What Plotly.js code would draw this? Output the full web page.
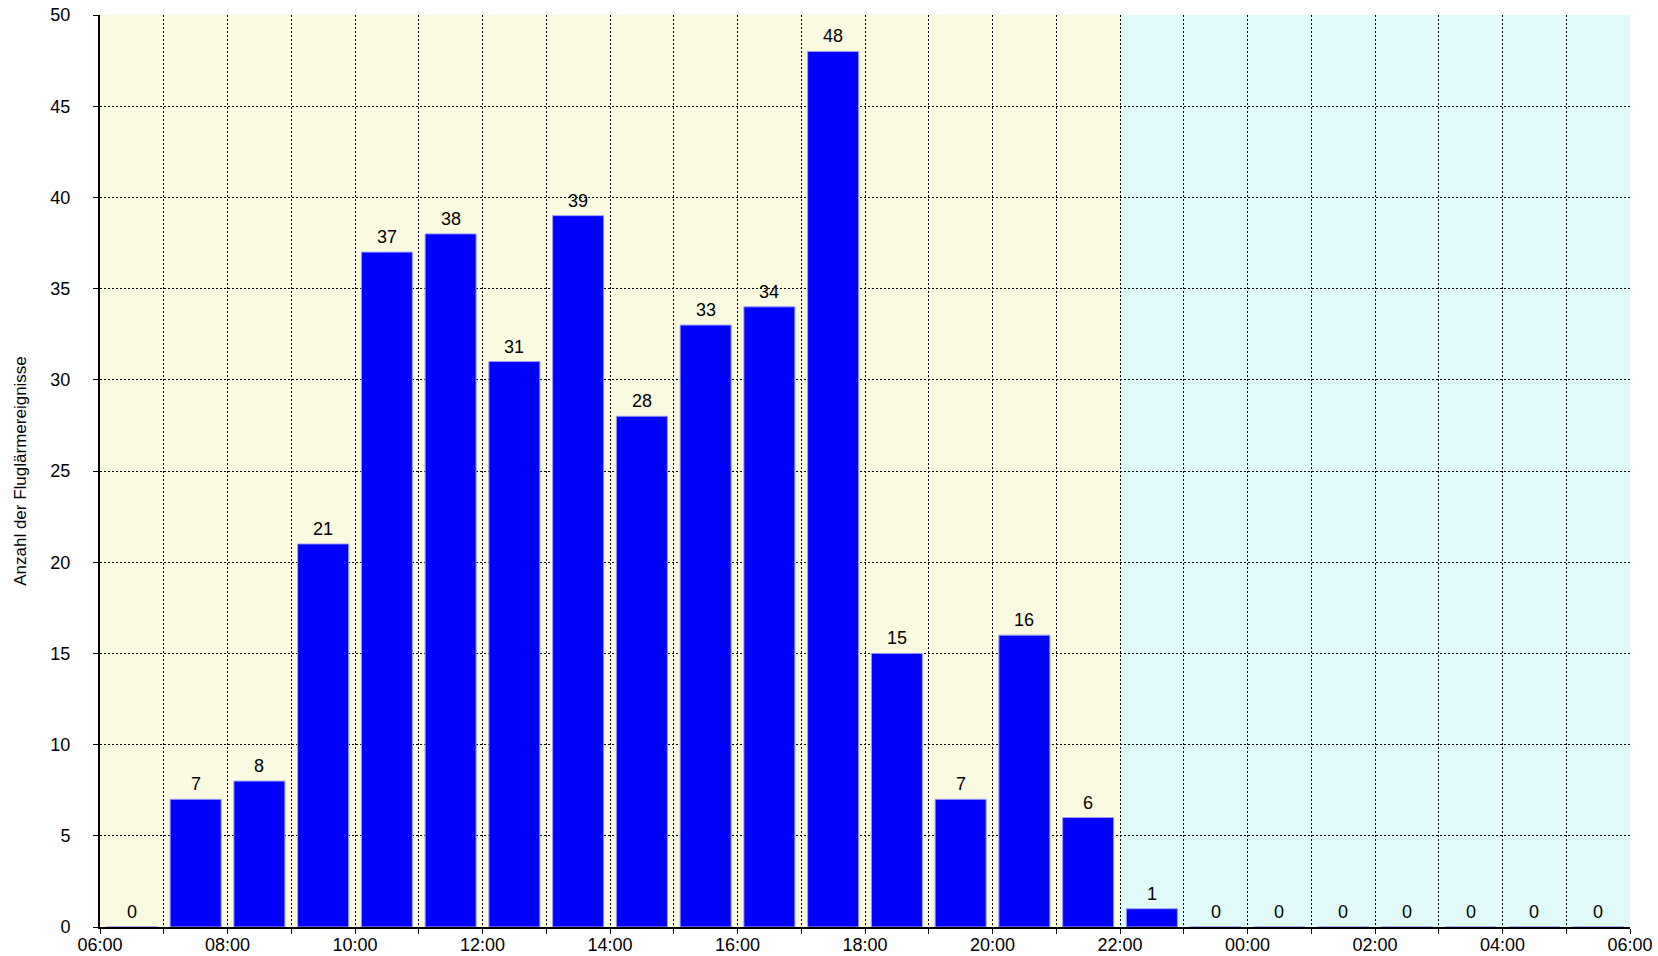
<!DOCTYPE html>
<html>
<head>
<meta charset="utf-8">
<script src="https://cdn.plot.ly/plotly-3.0.1.min.js"></script>
<style>html,body{margin:0;padding:0;background:#fff;}#chart{width:1658px;height:956px;}</style>
</head>
<body>
<div id="chart"></div>
<script>
const hours = ["06:00","07:00","08:00","09:00","10:00","11:00","12:00","13:00","14:00","15:00","16:00","17:00","18:00","19:00","20:00","21:00","22:00","23:00","00:00","01:00","02:00","03:00","04:00","05:00","06:00"];
const counts = [0,7,8,21,37,38,31,39,28,33,34,48,15,7,16,6,1,0,0,0,0,0,0,0];
const yTitle = "Anzahl der Fluglärmereignisse";

const xPos = counts.map((v,i)=>i+0.5);
const tickVals = hours.map((h,i)=>i);
const tickText = hours.map((h,i)=> i%2===0 ? h : "");

const fontFam = "Liberation Sans, Arial, sans-serif";

const trace = {
  type: "bar",
  x: xPos,
  y: counts,
  width: 0.8,
  marker: {color: "#0000FF", line: {color: "#9a9aff", width: 1}},
  hoverinfo: "skip"
};

const annotations = counts.map((v,i)=>({
  x: xPos[i], y: v, xref: "x", yref: "y",
  text: String(v), showarrow: false,
  yanchor: "bottom", yshift: 3,
  font: {family: fontFam, size: 18, color: "#000"}
}));

const layout = {
  width: 1658, height: 956,
  margin: {l: 100, r: 28, t: 15, b: 29},
  paper_bgcolor: "#ffffff",
  plot_bgcolor: "#ffffff",
  showlegend: false,
  font: {family: fontFam, size: 18, color: "#000"},
  xaxis: {
    range: [0, 24],
    tickmode: "array",
    tickvals: tickVals,
    ticktext: tickText,
    ticks: "outside", ticklen: 5, tickwidth: 1, tickcolor: "#000",
    showline: true, linecolor: "#000", linewidth: 2,
    showgrid: true, gridcolor: "#000", gridwidth: 1, griddash: "2px,2px",
    zeroline: false,
    ticklabelstandoff: -5,
    tickfont: {family: fontFam, size: 18, color: "#000"},
    fixedrange: true
  },
  yaxis: {
    range: [0, 50],
    dtick: 5, tick0: 0,
    ticks: "outside", ticklen: 5, tickwidth: 1, tickcolor: "#000",
    showline: true, linecolor: "#000", linewidth: 2,
    showgrid: true, gridcolor: "#000", gridwidth: 1, griddash: "2px,2px",
    zeroline: false,
    ticklabelstandoff: 19,
    tickfont: {family: fontFam, size: 18, color: "#000"},
    title: {text: yTitle, font: {family: fontFam, size: 17, color: "#000"}, standoff: 19},
    fixedrange: true
  },
  shapes: [
    {type: "rect", xref: "x", yref: "paper", x0: 0, x1: 16, y0: 0, y1: 1, fillcolor: "#FAFAE1", line: {width: 0}, layer: "below"},
    {type: "rect", xref: "x", yref: "paper", x0: 16, x1: 24, y0: 0, y1: 1, fillcolor: "#E0FAFA", line: {width: 0}, layer: "below"}
  ],
  annotations: annotations,
  bargap: 0.2
};

Plotly.newPlot("chart", [trace], layout, {displayModeBar: false, staticPlot: true});
</script>
</body>
</html>
